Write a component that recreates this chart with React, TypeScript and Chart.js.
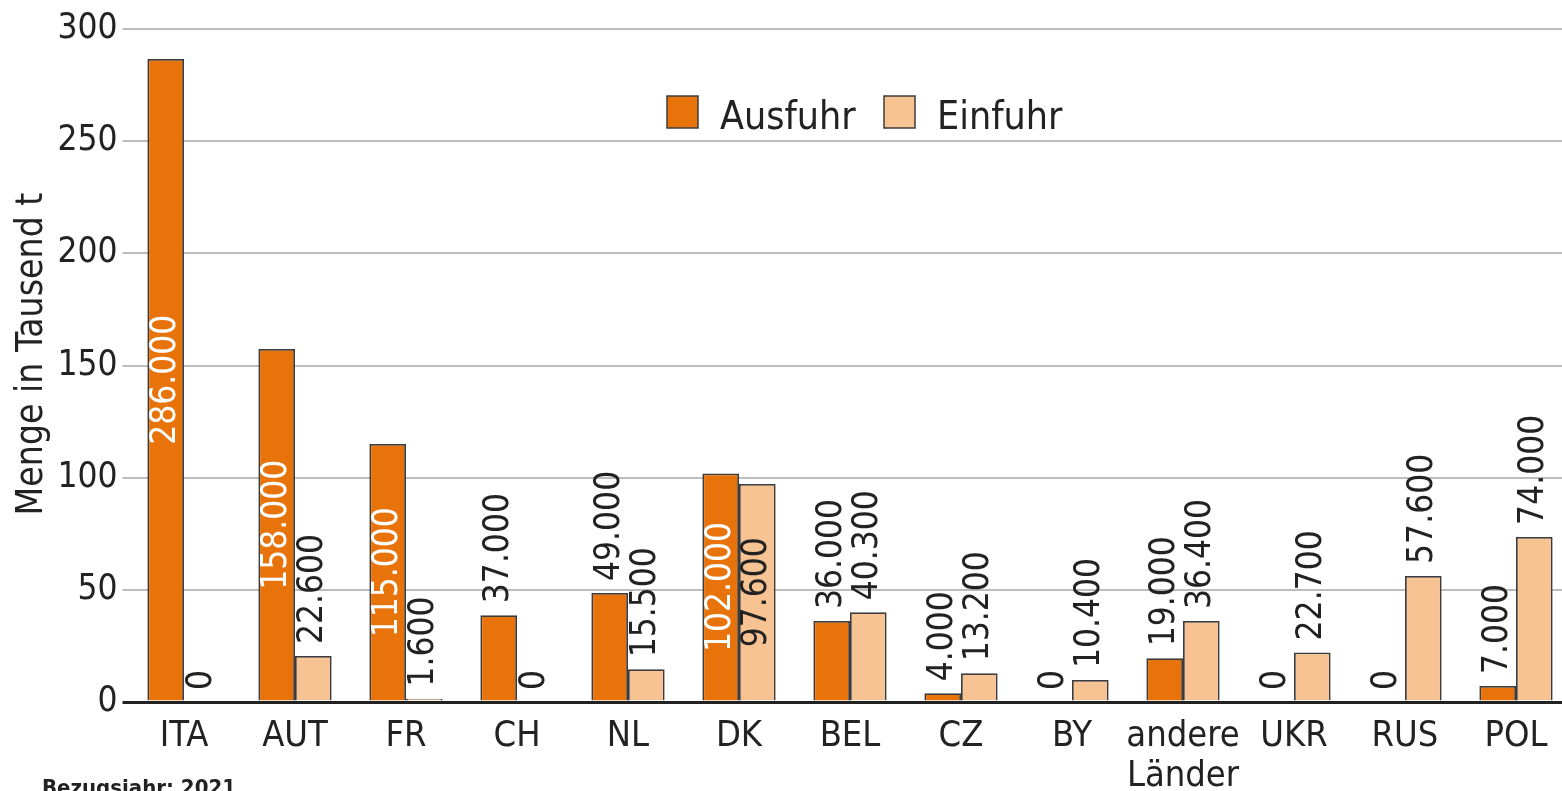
import React, { useEffect, useRef } from 'react';
import { Chart, registerables } from 'chart.js';

Chart.register(...registerables);

const categories: (string | string[])[] = ['ITA', 'AUT', 'FR', 'CH', 'NL', 'DK', 'BEL', 'CZ', 'BY', ['andere', 'Länder'], 'UKR', 'RUS', 'POL'];
const ausfuhr = [286.6, 157.4, 115.0, 38.7, 48.6, 101.9, 36.1, 3.9, 0, 19.5, 0, 0, 7.1];
const einfuhr = [0, 20.5, 1.5, 0, 14.6, 97.2, 40.0, 12.8, 9.8, 36.1, 22.1, 56.2, 73.6];
const ausfuhrLabels = ['286.000', '158.000', '115.000', '37.000', '49.000', '102.000', '36.000', '4.000', '0', '19.000', '0', '0', '7.000'];
const einfuhrLabels = ['0', '22.600', '1.600', '0', '15.500', '97.600', '40.300', '13.200', '10.400', '36.400', '22.700', '57.600', '74.000'];
const insideAusfuhr = [true, true, true, false, false, true, false, false, false, false, false, false, false];
const insideEinfuhr = [false, false, false, false, false, true, false, false, false, false, false, false, false];
const yTicks = [0, 50, 100, 150, 200, 250, 300];
const seriesNames = ['Ausfuhr', 'Einfuhr'];
const yTitle = 'Menge in Tausend t';
const footnote = 'Bezugsjahr: 2021';

const FONT = '"DejaVu Sans Condensed", "Liberation Sans Narrow", "DejaVu Sans", sans-serif';
const ORANGE = '#E8730A';
const PEACH = '#F7C393';
const TEXT = '#222222';
const BORDER = '#3c3c3c';

const labelPlugin = {
  id: 'valueLabels',
  afterDatasetsDraw(chart: any) {
    const ctx = chart.ctx;
    const labelSets = [ausfuhrLabels, einfuhrLabels];
    const insideSets = [insideAusfuhr, insideEinfuhr];
    chart.data.datasets.forEach((ds: any, di: number) => {
      const meta = chart.getDatasetMeta(di);
      meta.data.forEach((bar: any, i: number) => {
        const txt = labelSets[di][i];
        const inside = insideSets[di][i];
        ctx.save();
        ctx.font = `35px ${FONT}`;
        ctx.translate(bar.x, 0);
        ctx.rotate(-Math.PI / 2);
        ctx.textBaseline = 'middle';
        if (inside) {
          const mid = (bar.y + bar.base) / 2;
          ctx.textAlign = 'center';
          ctx.fillStyle = di === 0 ? '#ffffff' : TEXT;
          ctx.fillText(txt, -mid, 0);
        } else {
          ctx.textAlign = 'left';
          ctx.fillStyle = TEXT;
          ctx.fillText(txt, -(bar.y - 12), 0);
        }
        ctx.restore();
      });
    });
  },
};

const legendPlugin = {
  id: 'customLegend',
  afterDraw(chart: any) {
    const ctx = chart.ctx;
    const xs = [667, 884];
    const y = 96;
    chart.data.datasets.forEach((ds: any, i: number) => {
      ctx.save();
      ctx.fillStyle = ds.backgroundColor;
      ctx.strokeStyle = BORDER;
      ctx.lineWidth = 1.5;
      ctx.fillRect(xs[i], y, 31, 32);
      ctx.strokeRect(xs[i], y, 31, 32);
      ctx.fillStyle = TEXT;
      ctx.font = `39px ${FONT}`;
      ctx.textBaseline = 'alphabetic';
      ctx.textAlign = 'left';
      ctx.fillText(ds.label, xs[i] + 53, 129);
      ctx.restore();
    });
    // y axis title
    ctx.save();
    ctx.fillStyle = TEXT;
    ctx.font = `37px ${FONT}`;
    ctx.translate(32, 354);
    ctx.rotate(-Math.PI / 2);
    ctx.textAlign = 'center';
    ctx.textBaseline = 'middle';
    ctx.fillText(yTitle, 0, 0);
    ctx.restore();
    // footnote
    ctx.save();
    ctx.fillStyle = TEXT;
    ctx.font = `bold 22px ${FONT}`;
    ctx.textBaseline = 'top';
    ctx.textAlign = 'left';
    ctx.fillText(footnote, 42, 778);
    ctx.restore();
  },
};

export default function App() {
  const ref = useRef<HTMLCanvasElement>(null);
  useEffect(() => {
    document.body.style.margin = '0';
    const chart = new Chart(ref.current!, {
      type: 'bar',
      data: {
        labels: categories as any,
        datasets: [
          { label: seriesNames[0], data: ausfuhr, backgroundColor: ORANGE, borderColor: BORDER, borderWidth: 1.8, categoryPercentage: 0.66, barPercentage: 1 },
          { label: seriesNames[1], data: einfuhr, backgroundColor: PEACH, borderColor: BORDER, borderWidth: 1.8, categoryPercentage: 0.66, barPercentage: 1 },
        ],
      },
      plugins: [labelPlugin, legendPlugin],
      options: {
        responsive: false,
        animation: false,
        layout: { padding: { top: 29, right: 8.5, left: 0, bottom: 0 } },
        plugins: { legend: { display: false }, tooltip: { enabled: false } },
        scales: {
          x: {
            grid: { display: false },
            border: { display: false },
            ticks: { color: TEXT, font: { family: FONT, size: 36, lineHeight: 1.1 }, padding: 7, maxRotation: 0, autoSkip: false },
            afterFit: (s: any) => { s.height = 89; },
          },
          y: {
            min: 0,
            max: 300,
            afterBuildTicks: (s: any) => { s.ticks = yTicks.map((v) => ({ value: v })); },
            grid: {
              color: (c: any) => (c.tick && c.tick.value === 0 ? '#222222' : '#bdbdbd'),
              lineWidth: (c: any) => (c.tick && c.tick.value === 0 ? 3 : 2),
              tickLength: 6,
              drawTicks: true,
            },
            border: { display: false },
            ticks: { color: TEXT, font: { family: FONT, size: 35 }, padding: 5 },
            afterFit: (s: any) => { s.width = 128.5; },
          },
        },
      },
    });
    return () => chart.destroy();
  }, []);
  return (
    <div style={{ width: 1562, height: 791, overflow: 'hidden' }}>
      <canvas ref={ref} width={1580} height={791} style={{ width: 1580, height: 791, display: 'block' }} />
    </div>
  );
}
